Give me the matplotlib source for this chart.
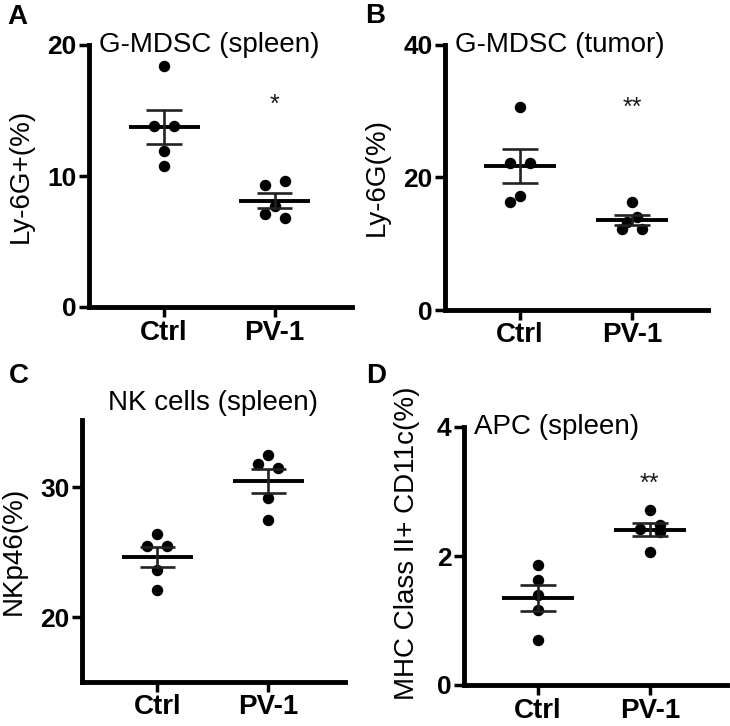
import numpy as np
import matplotlib
matplotlib.use("Agg")
import matplotlib.pyplot as plt

plt.rcParams['font.family'] = ['Liberation Sans', 'DejaVu Sans']

groups = ["Ctrl", "PV-1"]

a_ctrl = [18.4, 13.8, 13.8, 11.9, 10.8]
a_pv1 = [9.6, 9.3, 7.7, 7.1, 6.8]
b_ctrl = [30.6, 22.2, 22.2, 17.2, 16.3]
b_pv1 = [16.3, 14.0, 13.3, 12.2, 12.2]
c_ctrl = [26.4, 25.5, 25.5, 23.6, 22.1]
c_pv1 = [32.5, 31.8, 31.5, 29.2, 27.5]
d_ctrl = [1.86, 1.63, 1.40, 1.16, 0.70]
d_pv1 = [2.71, 2.48, 2.42, 2.37, 2.06]

titles = ["G-MDSC (spleen)", "G-MDSC (tumor)", "NK cells (spleen)", "APC (spleen)"]
ylabels = ["Ly-6G+(%)", "Ly-6G(%)", "NKp46(%)", "MHC Class II+ CD11c(%)"]
yticks = [[0, 10, 20], [0, 20, 40], [20, 30], [0, 2, 4]]
ylims = [(0, 20), (0, 40), (15, 35.2), (0, 4)]
stars = ["*", "**", "", "**"]
star_y = [16.0, 31.7, None, 3.24]
letters = ["A", "B", "C", "D"]

W, H = 730, 726
fig = plt.figure(figsize=(W / 100, H / 100), dpi=100)

# axes rectangles in pixels: left, top, right, bottom
rects_px = [(89, 45, 352, 307), (445, 45, 708, 310), (82, 420, 345, 682), (464, 427, 727, 685)]
xlims = [(-0.68, 1.70), (-0.67, 1.68), (-0.68, 1.69), (-0.66, 1.69)]
ylab_x = [-0.21, -0.21, -0.21, -0.167]
ylab_y = [0.5, 0.5, 0.5, 0.55]
letter_pos = [(7, 24), (365, 23), (9, 383), (366, 383)]

data = [(a_ctrl, a_pv1), (b_ctrl, b_pv1), (c_ctrl, c_pv1), (d_ctrl, d_pv1)]

DIAM = 11.0   # marker diameter in px
STEP = 10.0   # swarm step in px


def swarm_offsets(vals, px_per_unit):
    order = np.argsort(-np.asarray(vals))
    placed = []  # (yy_px, off_px, idx)
    offs = np.zeros(len(vals))
    cands = [0, -STEP, STEP, -2 * STEP, 2 * STEP, -3 * STEP, 3 * STEP]
    for i in order:
        y = vals[i] * px_per_unit
        for c in cands:
            if all(np.hypot(c - o, y - yy) >= DIAM for yy, o, _ in placed):
                break
        placed.append((y, c, i))
        offs[i] = c
    # recentre rows of nearly equal values
    used = set()
    for yy, o, i in placed:
        if i in used:
            continue
        row = [j for y2, o2, j in placed if abs(y2 - yy) < 5 and j not in used]
        if len(row) > 1:
            m = np.mean([offs[j] for j in row])
            for j in row:
                offs[j] -= m
        used.update(row)
    return offs


for k in range(4):
    l, t, r, b = rects_px[k]
    ax = fig.add_axes([l / W, 1 - b / H, (r - l) / W, (b - t) / H])
    ax.set_xlim(*xlims[k])
    ax.set_ylim(*ylims[k])
    px_per_unit = (b - t) / (ylims[k][1] - ylims[k][0])
    px_per_x = (r - l) / (xlims[k][1] - xlims[k][0])
    for gi, vals in enumerate(data[k]):
        vals = list(vals)
        offs = swarm_offsets(vals, px_per_unit) / px_per_x
        ax.scatter(gi + offs, vals, s=68, color='black', zorder=3, linewidths=0)
        m = np.mean(vals)
        sem = np.std(vals, ddof=1) / np.sqrt(len(vals))
        ax.hlines(m, gi - 0.32, gi + 0.32, color='black', lw=2.8, zorder=4)
        ax.hlines([m - sem, m + sem], gi - 0.16, gi + 0.16, color='#222222', lw=1.9, zorder=4)
        ax.vlines(gi, m - sem, m + sem, color='#222222', lw=1.9, zorder=4)
    for s in ['top', 'right']:
        ax.spines[s].set_visible(False)
    for s in ['left', 'bottom']:
        ax.spines[s].set_linewidth(3.5)
        ax.spines[s].set_capstyle('projecting')
    ax.set_xticks([0, 1])
    ax.set_xticklabels(groups, fontsize=20, fontweight='bold')
    ax.set_yticks(yticks[k])
    ax.set_yticklabels([str(v) for v in yticks[k]], fontsize=19, fontweight='bold')
    ax.tick_params(axis='both', direction='out', length=7, width=2.5, pad=2)
    ax.set_ylabel(ylabels[k], fontsize=20)
    ax.yaxis.set_label_coords(ylab_x[k], ylab_y[k])
    if k == 2:
        ax.text(0.5, 1.065, titles[k], transform=ax.transAxes, ha='center', va='center', fontsize=20)
    else:
        ax.text(0.038, 1.0, titles[k], transform=ax.transAxes, ha='left', va='center', fontsize=20)
    if stars[k]:
        ax.annotate(stars[k], xy=(1, star_y[k]), xytext=(0, -10.5), textcoords='offset points',
                    ha='center', va='baseline', fontsize=18, color='#1a1a1a')
    lx, ly = letter_pos[k]
    fig.text(lx / W, 1 - ly / H, letters[k], fontsize=20, fontweight='bold', ha='left', va='baseline')

fig.savefig("out.png", dpi=100)
